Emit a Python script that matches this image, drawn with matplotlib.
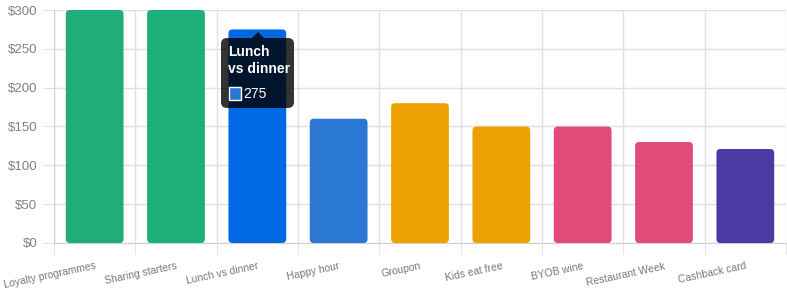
import matplotlib
matplotlib.use("Agg")
import matplotlib.pyplot as plt
from matplotlib.patches import FancyBboxPatch, Polygon, Rectangle

plt.rcParams['font.family'] = ['Liberation Sans', 'DejaVu Sans']

# Data
categories = ["Loyalty programmes", "Sharing starters", "Lunch vs dinner", "Happy hour",
              "Groupon", "Kids eat free", "BYOB wine", "Restaurant Week", "Cashback card"]
values = [300, 300, 275, 160, 180, 150, 150, 130, 121]
colors = ["#20AD7A", "#1CAF7A", "#0068E3", "#2B78D4", "#EDA100", "#EDA100",
          "#E24A78", "#E24A78", "#4A3AA6"]
yticks = [0, 50, 100, 150, 200, 250, 300]
ytick_labels = ["$0", "$50", "$100", "$150", "$200", "$250", "$300"]
tooltip_title = "Lunch\nvs dinner"
tooltip_value = "275"

W, H = 787, 292
fig = plt.figure(figsize=(W / 100, H / 100), dpi=100)
ax_l, ax_r, ax_t, ax_b = 54, 786, 10, 243
ax = fig.add_axes([ax_l / W, 1 - ax_b / H, (ax_r - ax_l) / W, (ax_b - ax_t) / H])

n = len(categories)
ax.set_xlim(-0.5, n - 0.5)
ax.set_ylim(0, 300)

# pixels per data unit
px_x = (ax_r - ax_l) / n
px_y = (ax_b - ax_t) / 300.0

bar_w = 0.71
radius_px = 4
for i, (v, c) in enumerate(zip(values, colors)):
    p = FancyBboxPatch((i - bar_w / 2, 0), bar_w, v,
                       boxstyle="round,pad=0,rounding_size=%f" % (radius_px / px_x),
                       mutation_aspect=px_x / px_y,
                       facecolor=c, edgecolor="none", zorder=3, clip_on=False)
    ax.add_patch(p)

grid_c = "#E0E0E0"
ax.set_yticks(yticks)
ax.set_yticklabels(ytick_labels)
ax.set_xticks([i - 0.5 for i in range(n + 1)], minor=True)
ax.set_xticks(range(n))
ax.set_xticklabels(categories, rotation=12, ha="right", rotation_mode="anchor")
ax.grid(True, axis="y", color=grid_c, linewidth=1, zorder=0)
ax.grid(True, axis="x", which="minor", color=grid_c, linewidth=1, zorder=0)
ax.tick_params(axis="x", which="major", length=0, pad=13, labelsize=7.5, labelcolor="#777777")
ax.tick_params(axis="x", which="minor", length=8, color=grid_c)
ax.tick_params(axis="y", length=8, color=grid_c, pad=4, labelsize=9.5, labelcolor="#808080")
for s in ["top", "right"]:
    ax.spines[s].set_visible(False)
ax.spines["left"].set_color("#D0D0D0")
ax.spines["bottom"].set_color("#D0D0D0")


# Tooltip, in figure pixel coordinates (origin top-left)
def fx(x):
    return x / W


def fy(y):
    return 1 - y / H


tip_bg = (0, 0, 0, 0.8)
box = FancyBboxPatch((fx(221), fy(108)), fx(294) - fx(221), fy(38) - fy(108),
                     boxstyle="round,pad=0,rounding_size=%f" % (6 / W),
                     mutation_aspect=W / H,
                     transform=fig.transFigure, facecolor=tip_bg, edgecolor="none", zorder=10)
fig.patches.append(box)
tri = Polygon([(fx(252), fy(38)), (fx(264), fy(38)), (fx(258), fy(32))], closed=True,
              transform=fig.transFigure, facecolor=tip_bg, edgecolor="none", zorder=10)
fig.patches.append(tri)
fig.text(fx(228), fy(45), tooltip_title, color="white", fontsize=10, fontweight="bold",
         ha="left", va="top", linespacing=1.3, zorder=11)
sw = Rectangle((fx(229), fy(100)), fx(241) - fx(229), fy(87) - fy(100),
               transform=fig.transFigure, facecolor="#2B78D4", edgecolor="white",
               linewidth=1, zorder=11)
fig.patches.append(sw)
fig.text(fx(243), fy(93.5), tooltip_value, color="white", fontsize=10,
         ha="left", va="center", zorder=11)

fig.savefig("out.png", dpi=100, facecolor="white")
